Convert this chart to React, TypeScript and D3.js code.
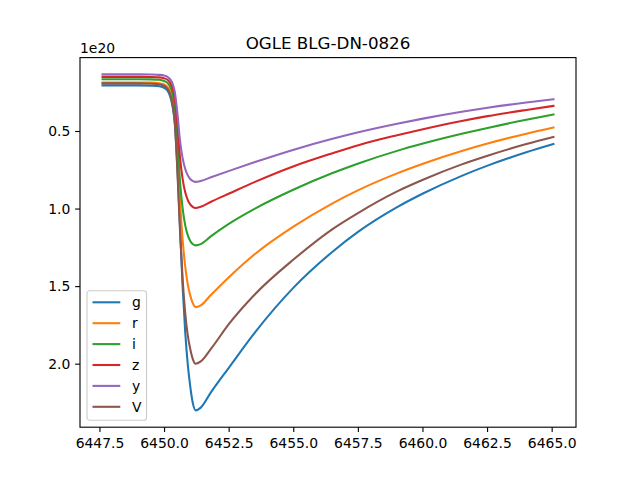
import * as d3 from "d3";

// sample times (days)
const times = [
  6447.6, 6449.0, 6449.5, 6449.8, 6450.0, 6450.1, 6450.2, 6450.3, 6450.4, 6450.5,
  6450.6, 6450.7, 6450.8, 6450.9, 6451.0, 6451.1, 6451.2, 6451.4, 6451.8, 6452.5,
  6453.5, 6455.0, 6456.5, 6457.5, 6459.0, 6460.0, 6461.5, 6462.5, 6464.0, 6465.05,
];

// values in units of 1e20
const gValues = [
  0.203, 0.203, 0.205, 0.209, 0.22, 0.234, 0.266, 0.329, 0.454, 0.748,
  1.125, 1.502, 1.795, 2.005, 2.151, 2.256, 2.298, 2.28, 2.18, 2.02,
  1.795, 1.505, 1.275, 1.146, 0.988, 0.9, 0.786, 0.72, 0.634, 0.581,
];
const rValues = [
  0.184, 0.184, 0.185, 0.19, 0.198, 0.21, 0.235, 0.285, 0.394, 0.647,
  0.951, 1.198, 1.371, 1.487, 1.56, 1.61, 1.632, 1.621, 1.553, 1.438,
  1.29, 1.112, 0.963, 0.878, 0.77, 0.708, 0.626, 0.578, 0.514, 0.474,
];
const iValues = [
  0.163, 0.163, 0.164, 0.167, 0.176, 0.184, 0.206, 0.249, 0.345, 0.559,
  0.827, 0.998, 1.105, 1.17, 1.207, 1.227, 1.234, 1.226, 1.175, 1.094,
  0.997, 0.874, 0.768, 0.706, 0.625, 0.578, 0.515, 0.477, 0.424, 0.39,
];
const zValues = [
  0.148, 0.148, 0.149, 0.151, 0.158, 0.165, 0.182, 0.216, 0.292, 0.461,
  0.672, 0.807, 0.892, 0.942, 0.972, 0.987, 0.993, 0.985, 0.953, 0.9,
  0.825, 0.724, 0.64, 0.588, 0.524, 0.485, 0.432, 0.401, 0.361, 0.335,
];
const yValues = [
  0.132, 0.132, 0.133, 0.135, 0.14, 0.146, 0.16, 0.187, 0.25, 0.388,
  0.562, 0.673, 0.742, 0.783, 0.808, 0.82, 0.825, 0.819, 0.795, 0.754,
  0.697, 0.617, 0.547, 0.505, 0.45, 0.417, 0.373, 0.347, 0.313, 0.292,
];
const vValues = [
  0.19, 0.19, 0.192, 0.197, 0.208, 0.223, 0.253, 0.316, 0.452, 0.768,
  1.148, 1.455, 1.672, 1.816, 1.907, 1.97, 1.997, 1.982, 1.9, 1.739,
  1.549, 1.324, 1.129, 1.024, 0.886, 0.811, 0.712, 0.656, 0.581, 0.535,
];

const bandNames = ["g", "r", "i", "z", "y", "V"];
const bandValues = [gValues, rValues, iValues, zValues, yValues, vValues];
const bandColors = ["#1f77b4", "#ff7f0e", "#2ca02c", "#d62728", "#9467bd", "#8c564b"];

const xTicks = [6447.5, 6450.0, 6452.5, 6455.0, 6457.5, 6460.0, 6462.5, 6465.0];
const yTicks = [0.5, 1.0, 1.5, 2.0];

const title = "OGLE BLG-DN-0826";
const offsetLabel = "1e20";

const W = 640;
const H = 480;
const margin = { left: 80, right: 64, top: 57.6, bottom: 52.8 };
const font = "DejaVu Sans, sans-serif";

const App = () => {
  const x0 = margin.left;
  const x1 = W - margin.right;
  const y0 = margin.top;
  const y1 = H - margin.bottom;

  const [tMin, tMax] = d3.extent(times) as [number, number];
  const tPad = (tMax - tMin) * 0.05;
  const xScale = d3.scaleLinear().domain([tMin - tPad, tMax + tPad]).range([x0, x1]);

  const all = bandValues.flat();
  const [vMin, vMax] = d3.extent(all) as [number, number];
  const vPad = (vMax - vMin) * 0.05;
  // inverted axis: small values on top
  const yScale = d3.scaleLinear().domain([vMin - vPad, vMax + vPad]).range([y0, y1]);

  const line = d3
    .line<number>()
    .x((_, i) => xScale(times[i]))
    .y((d) => yScale(d))
    .curve(d3.curveMonotoneX);

  const legX = x0 + 7;
  const legRow = 20.9;
  const legH = 129.5;
  const legY = y1 - 7 - legH;

  return (
    <div style={{ position: "absolute", left: 0, top: 0 }}>
      <svg width={W} height={H} style={{ display: "block", background: "#fff" }} fontFamily={font}>
        <defs>
          <clipPath id="plotClip">
            <rect x={x0} y={y0} width={x1 - x0} height={y1 - y0} />
          </clipPath>
        </defs>

        <g clipPath="url(#plotClip)">
          {bandValues.map((vals, k) => (
            <path
              key={bandNames[k]}
              d={line(vals) ?? ""}
              fill="none"
              stroke={bandColors[k]}
              strokeWidth={2.08}
              strokeLinejoin="round"
              strokeLinecap="square"
            />
          ))}
        </g>

        {/* spines */}
        <rect x={x0} y={y0} width={x1 - x0} height={y1 - y0} fill="none" stroke="#000" strokeWidth={1.11} />

        {/* x ticks */}
        {xTicks.map((t) => (
          <g key={t} transform={`translate(${xScale(t)},${y1})`}>
            <line y2={4.86} stroke="#000" strokeWidth={1.11} />
            <text y={21} textAnchor="middle" fontSize={13.9} fill="#000">
              {t.toFixed(1)}
            </text>
          </g>
        ))}

        {/* y ticks */}
        {yTicks.map((t) => (
          <g key={t} transform={`translate(${x0},${yScale(t)})`}>
            <line x2={-4.86} stroke="#000" strokeWidth={1.11} />
            <text x={-9.7} dy="0.35em" textAnchor="end" fontSize={13.9} fill="#000">
              {t.toFixed(1)}
            </text>
          </g>
        ))}

        <text x={x0} y={y0 - 5} fontSize={13.9} fill="#000">
          {offsetLabel}
        </text>

        <text x={(x0 + x1) / 2} y={y0 - 8.3} textAnchor="middle" fontSize={16.7} fill="#000">
          {title}
        </text>

        {/* legend */}
        <g transform={`translate(${legX},${legY})`}>
          <rect
            width={59.5}
            height={legH}
            rx={2.8}
            fill="#fff"
            fillOpacity={0.8}
            stroke="#cccccc"
            strokeWidth={1.11}
          />
          {bandNames.map((name, k) => (
            <g key={name} transform={`translate(0,${11.6 + k * legRow})`}>
              <line x1={5.5} x2={33.3} stroke={bandColors[k]} strokeWidth={2.08} />
              <text x={45} dy="0.35em" fontSize={13.9} fill="#000">
                {name}
              </text>
            </g>
          ))}
        </g>
      </svg>
    </div>
  );
};

export default App;
